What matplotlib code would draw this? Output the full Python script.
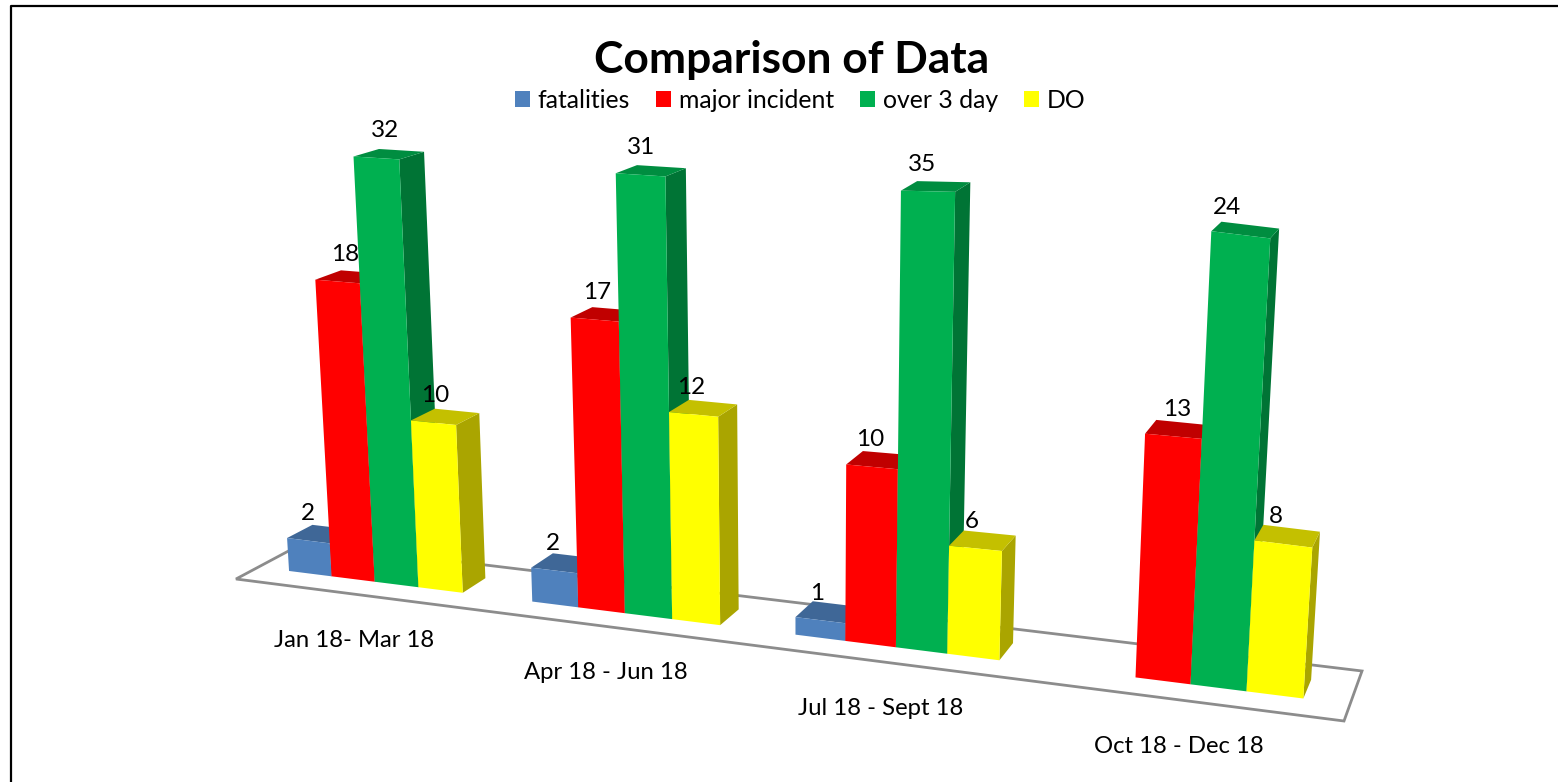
import numpy as np
import matplotlib
matplotlib.use("Agg")
import matplotlib.pyplot as plt
from matplotlib.patches import Polygon, Patch

# ---- data ----
categories = ["Jan 18- Mar 18", "Apr 18 - Jun 18", "Jul 18 - Sept 18", "Oct 18 - Dec 18"]
series_names = ["fatalities", "major incident", "over 3 day", "DO"]
fatalities = [2, 2, 1, 0]
major_incident = [18, 17, 10, 13]
over_3_day = [32, 31, 35, 24]
do_values = [10, 12, 6, 8]
all_series = [fatalities, major_incident, over_3_day, do_values]

# value axis of the reference stops short of the tallest bars, which are clipped there
AXIS_MAX = 25.65

# ---- style ----
front_cols = ["#4F81BD", "#FF0000", "#00B050", "#FFFF00"]
top_cols = ["#3F6797", "#C00000", "#008D40", "#C4C000"]
side_cols = ["#345580", "#A80000", "#007435", "#AAA500"]
# horizontal nudges of the data labels, by group and series
label_dx = [[0, 8, 9, 2], [-1, 2, 0, -2], [-3, -2, -6, -4], [0, 4, -14, -7]]
label_dy = -27
cat_dx = [-1, -3, -4, -5]
FONT = ["Lato", "DejaVu Sans"]

# ---- camera: floor plane as a homography ----
W, H = 1558, 782
floor_world = np.array([[0, 0], [4, 0], [4, 1], [0, 1]], float)
floor_img = np.array([[236, 579], [1344, 721], [1362, 671], [303.5, 543]], float)
SCALE_X = [330, 600, 870, 1170]     # image x of a bar foot
SCALE_S = [16.5, 17.1, 17.7, 18.9]  # pixels per value unit there

BAR_W = 0.1805
MARGIN = 0.132
Y0, Y1 = 0.32, 0.70


def homography(src, dst):
    A, b = [], []
    for (x, y), (u, v) in zip(src, dst):
        A.append([x, y, 1, 0, 0, 0, -u * x, -u * y]); b.append(u)
        A.append([0, 0, 0, x, y, 1, -v * x, -v * y]); b.append(v)
    h = np.linalg.solve(np.array(A), np.array(b))
    return np.append(h, 1).reshape(3, 3)


HM = homography(floor_world, floor_img)
VANISH = np.array([802.0, 9165.0])  # where the bar verticals converge


def proj(X, Y, Z=0.0):
    p = HM @ np.array([X, Y, 1.0])
    p = p[:2] / p[2]
    d = p - VANISH
    d /= np.linalg.norm(d)
    scale = np.interp(p[0], SCALE_X, SCALE_S) * (1 - 0.05 * (Y - Y0))
    return p + d * Z * scale


fig = plt.figure(figsize=(W / 100, H / 100), dpi=100)
ax = fig.add_axes([0, 0, 1, 1])
ax.set_xlim(0, W); ax.set_ylim(H, 0); ax.axis("off")

# chart frame (open at the bottom and right as cropped)
ax.plot([11, 11, W + 5], [H + 5, 5.5, 5.5], color="black", lw=1.6, zorder=1)

# floor
ax.add_patch(Polygon([proj(*c) for c in floor_world], closed=True, fc="white", ec="#8C8C8C", lw=2, zorder=2))

z = 3
for g in range(len(categories)):
    for s, vals in enumerate(all_series):
        v = vals[g]
        if v <= 0:
            continue
        h = min(v, AXIS_MAX)
        x0 = g + MARGIN + s * BAR_W
        x1 = x0 + BAR_W
        fb0, fb1 = proj(x0, Y0), proj(x1, Y0)
        bb1 = proj(x1, Y1)
        ft0, ft1 = proj(x0, Y0, h), proj(x1, Y0, h)
        bt0, bt1 = proj(x0, Y1, h), proj(x1, Y1, h)
        ax.add_patch(Polygon([fb1, bb1, bt1, ft1], fc=side_cols[s], ec="none", zorder=z))
        ax.add_patch(Polygon([ft0, ft1, bt1, bt0], fc=top_cols[s], ec="none", zorder=z))
        ax.add_patch(Polygon([fb0, fb1, ft1, ft0], fc=front_cols[s], ec="none", zorder=z + 0.5))
        z += 1
        c = (ft0 + ft1) / 2
        ax.text(c[0] + label_dx[g][s], c[1] + label_dy, str(v), ha="center", va="center",
                fontsize=17.5, family=FONT, color="black", zorder=100)

# category labels
for g, name in enumerate(categories):
    p = proj(g + 0.5, 0)
    ax.text(p[0] + cat_dx[g], p[1] + 46, name, ha="center", va="center", fontsize=17.2, family=FONT,
            color="black", zorder=100)

ax.text(792, 60.5, "Comparison of Data", ha="center", va="center", fontsize=31.9, fontweight="bold",
        family=FONT, color="black", zorder=100)

handles = [Patch(fc=c, ec="none", label=n) for c, n in zip(front_cols, series_names)]
ax.legend(handles=handles, ncol=4, loc="center", bbox_to_anchor=(800 / W, 1 - 100 / H), frameon=False,
          prop={"family": FONT, "size": 17.8}, handlelength=0.61, handleheight=0.61, handletextpad=0.3,
          columnspacing=1.07, borderpad=0, labelcolor="black")

fig.savefig("out.png", dpi=100, facecolor="white")
